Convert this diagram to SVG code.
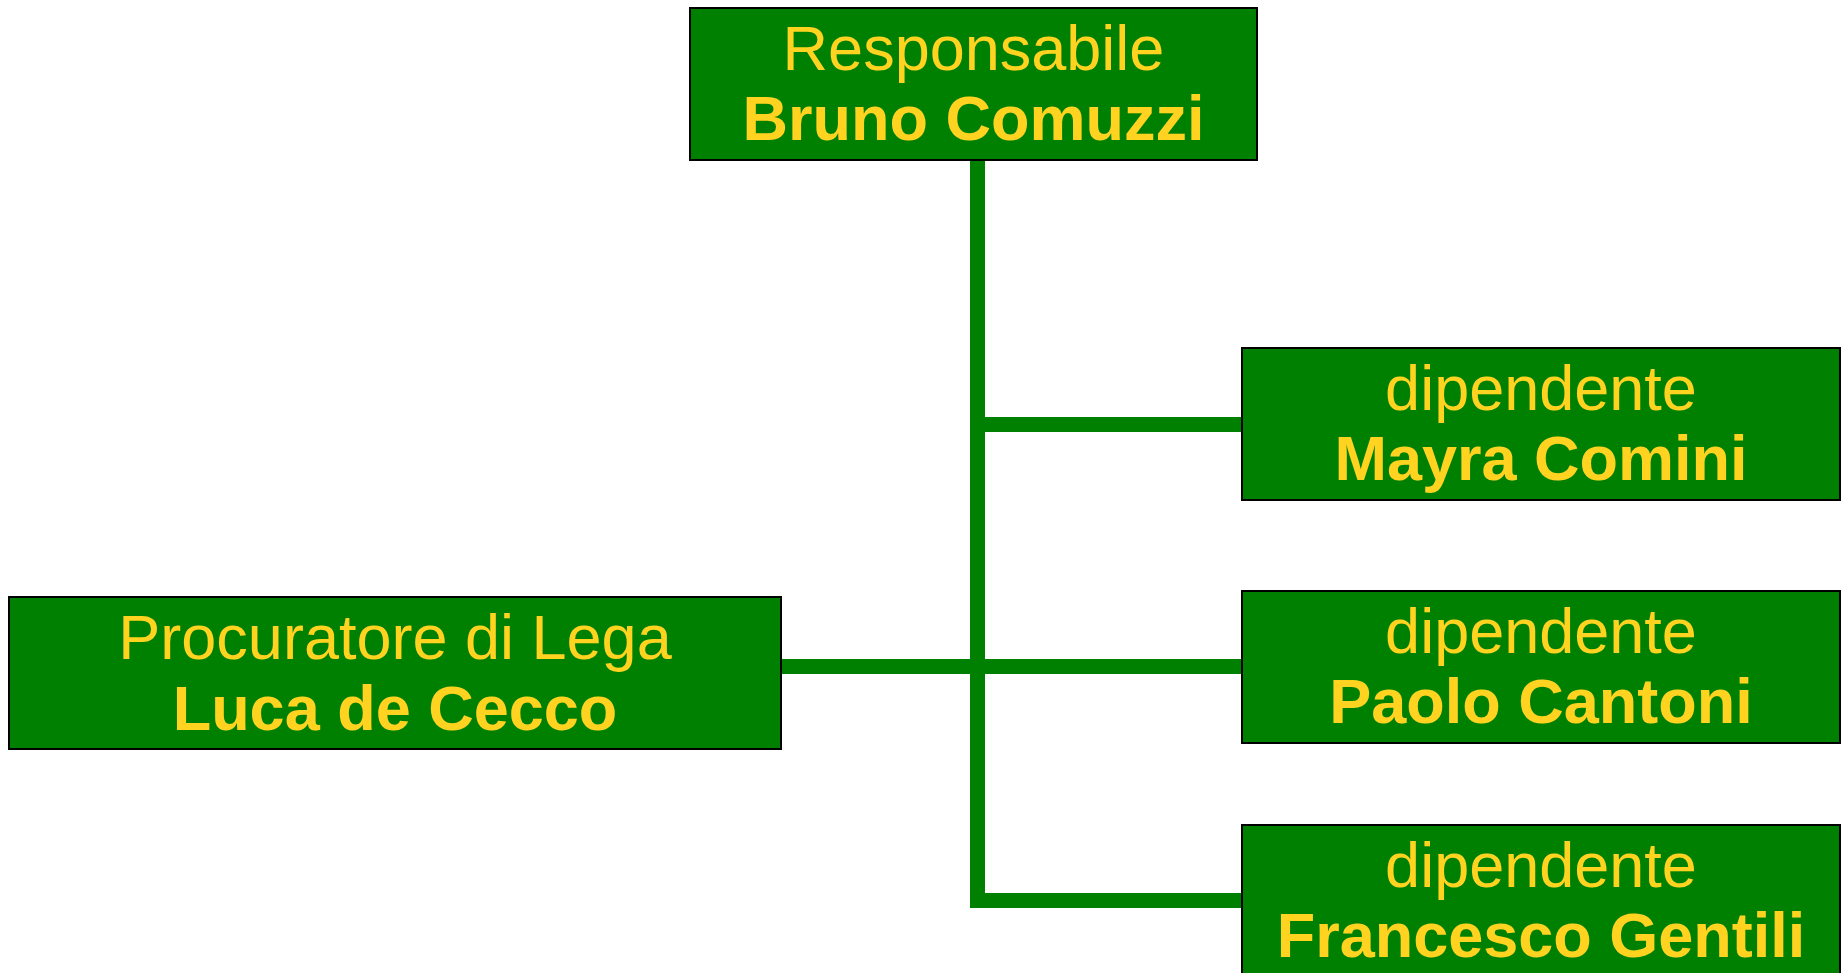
<svg xmlns="http://www.w3.org/2000/svg" width="1847" height="973" viewBox="0 0 1847 973">
<style>
.box{fill:#008000;stroke:#000;stroke-width:2}
.t{font-family:"Liberation Sans",Arial,sans-serif;font-size:63px;fill:#FFD320;text-anchor:middle}
.b{font-weight:bold}
.c{stroke:#008000;stroke-width:15;fill:none;stroke-linecap:butt}
</style>
<rect width="1847" height="973" fill="#fff"/>
<g id="connectors">
<line class="c" x1="977.5" y1="160" x2="977.5" y2="908"/>
<line class="c" x1="970" y1="424.5" x2="1242" y2="424.5"/>
<line class="c" x1="781" y1="666.5" x2="1242" y2="666.5"/>
<line class="c" x1="970" y1="900.5" x2="1242" y2="900.5"/>
</g>
<g id="responsabile">
<rect class="box" x="690" y="8" width="567" height="152"/>
<text class="t" x="973.5" y="70">Responsabile</text>
<text class="t b" x="973.5" y="140">Bruno Comuzzi</text>
</g>
<g id="mayra">
<rect class="box" x="1242" y="348" width="598" height="152"/>
<text class="t" x="1541" y="410">dipendente</text>
<text class="t b" x="1541" y="480">Mayra Comini</text>
</g>
<g id="paolo">
<rect class="box" x="1242" y="591" width="598" height="152"/>
<text class="t" x="1541" y="653">dipendente</text>
<text class="t b" x="1541" y="723">Paolo Cantoni</text>
</g>
<g id="francesco">
<rect class="box" x="1242" y="825" width="598" height="152"/>
<text class="t" x="1541" y="887">dipendente</text>
<text class="t b" x="1541" y="957">Francesco Gentili</text>
</g>
<g id="luca">
<rect class="box" x="9" y="597" width="772" height="152"/>
<text class="t" x="395" y="659">Procuratore di Lega</text>
<text class="t b" x="395" y="730">Luca de Cecco</text>
</g>
</svg>
